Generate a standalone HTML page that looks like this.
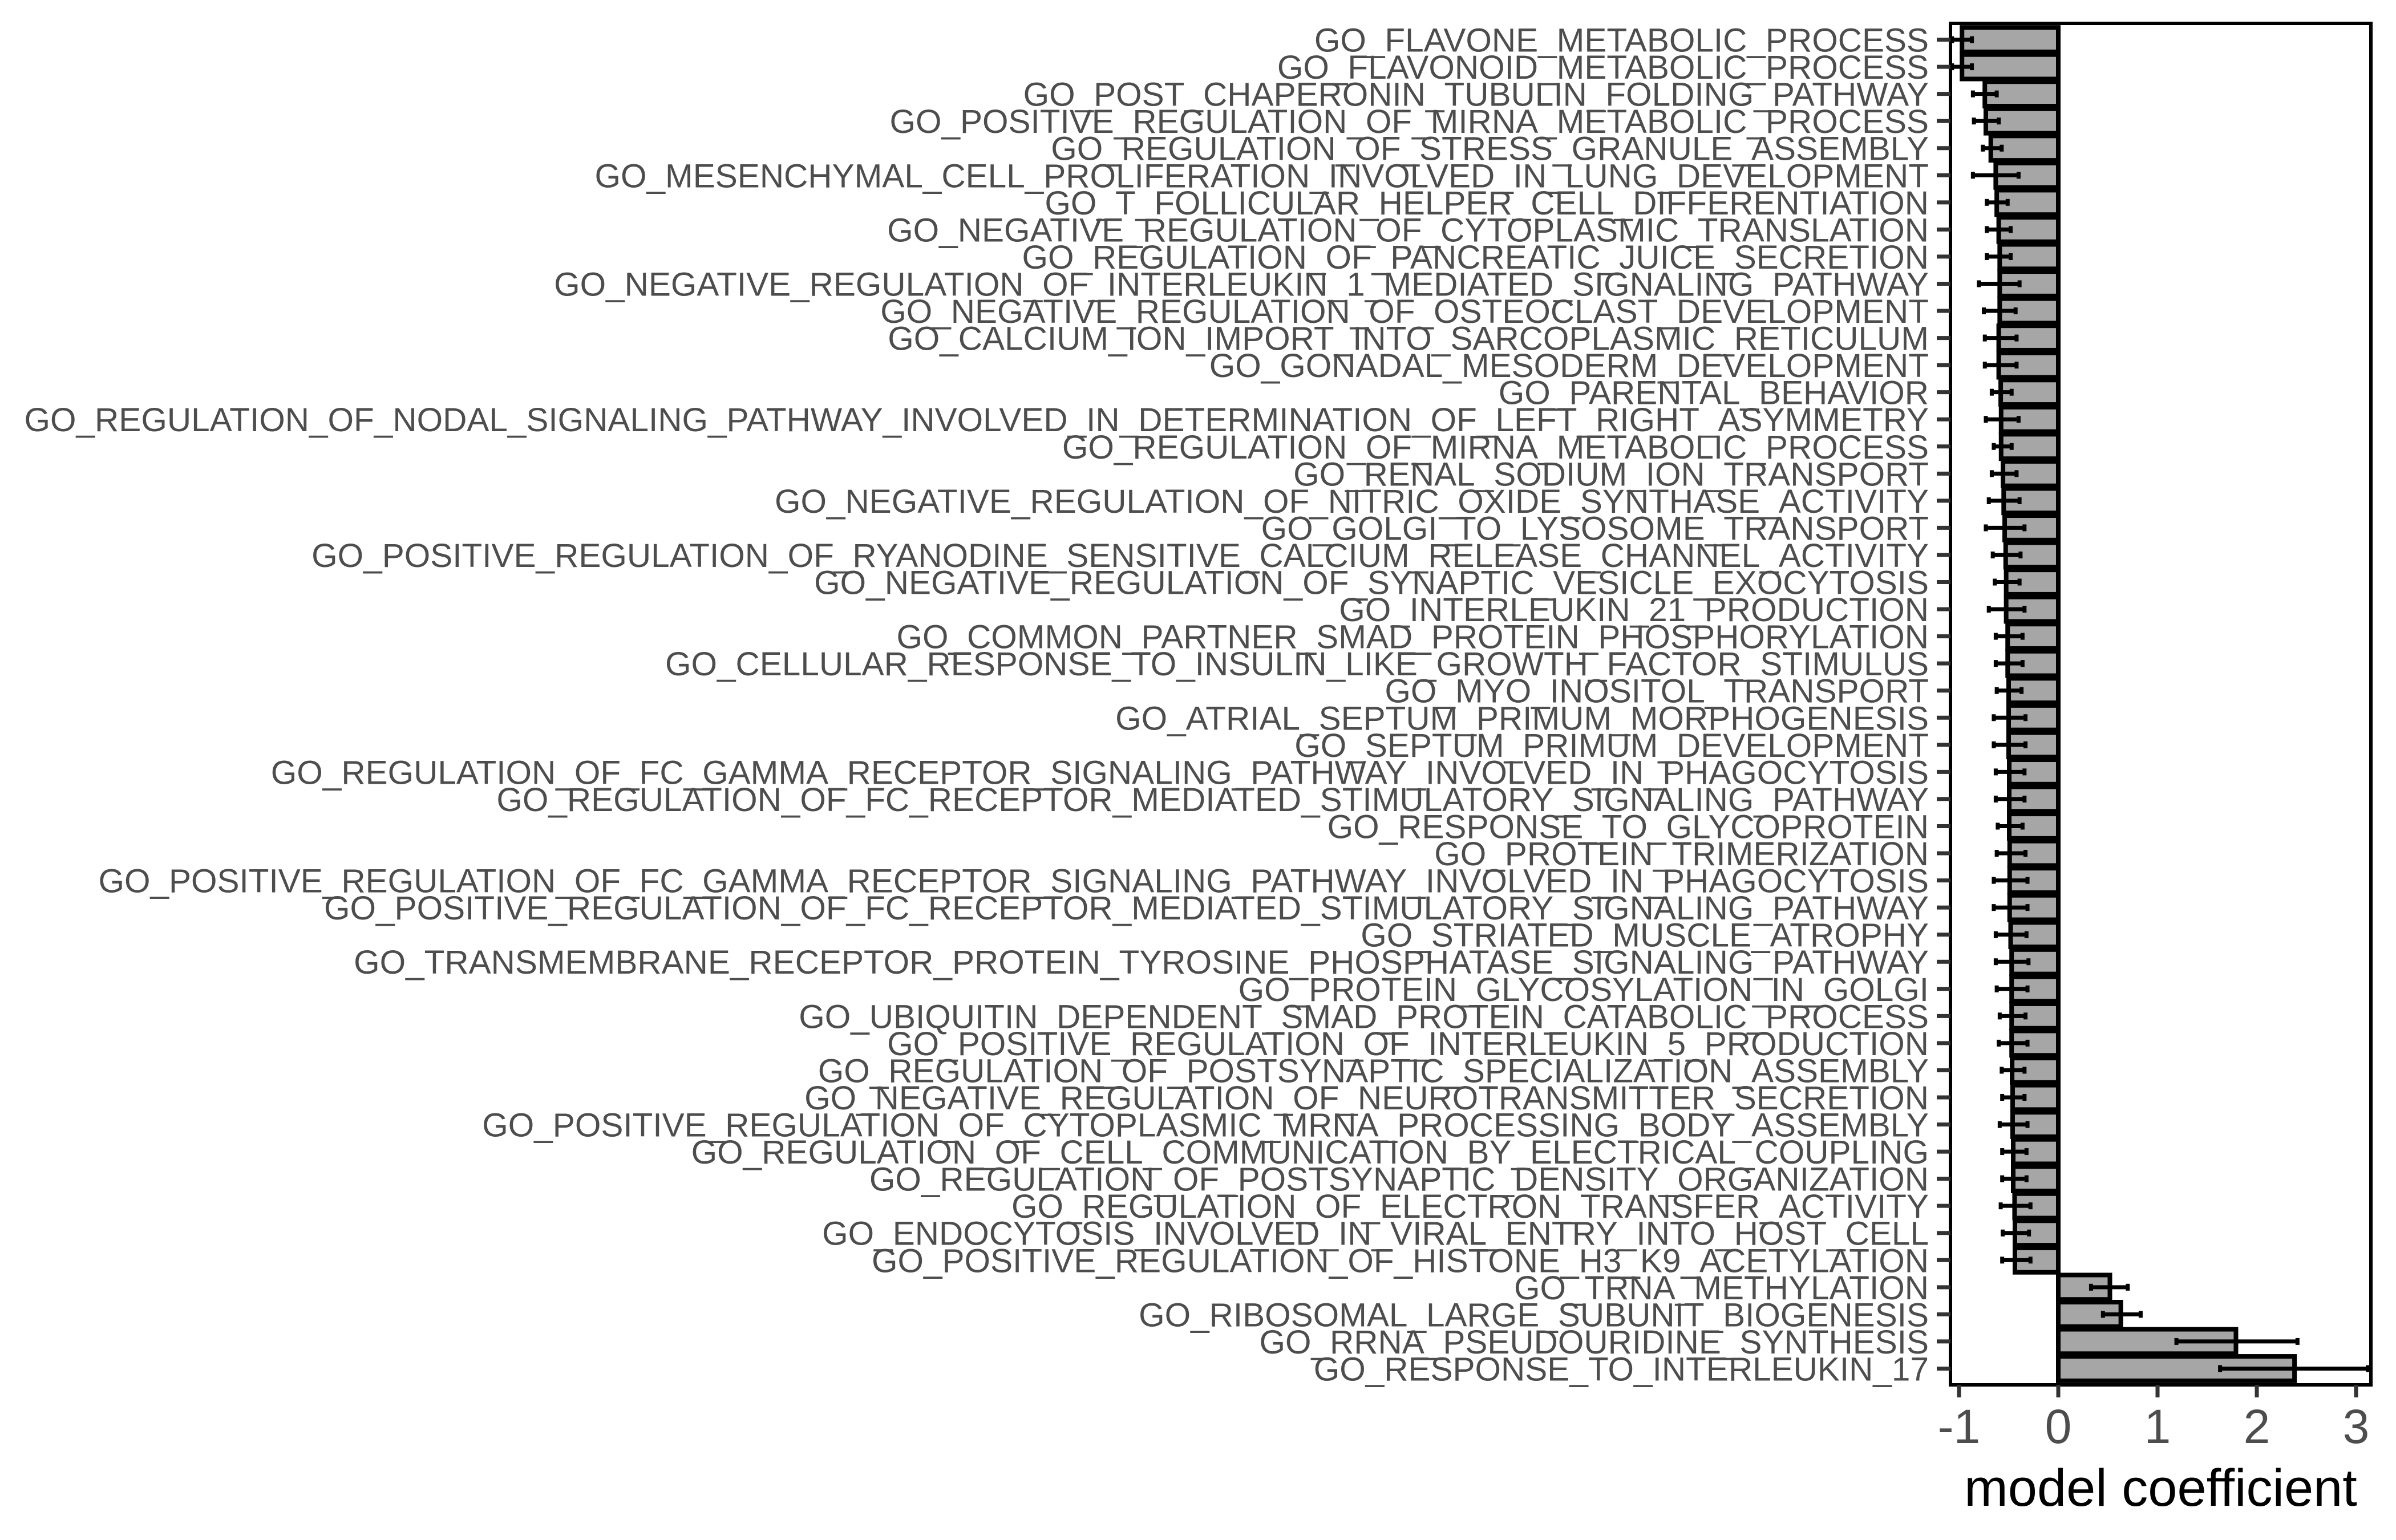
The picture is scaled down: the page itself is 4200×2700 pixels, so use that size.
<!DOCTYPE html>
<html><head><meta charset="utf-8">
<style>
html,body{margin:0;padding:0;background:#fff;}
svg{display:block;}
</style></head>
<body>
<svg id="chart" width="4200" height="2700" xmlns="http://www.w3.org/2000/svg"></svg>
<script>
const categories = [
"GO_FLAVONE_METABOLIC_PROCESS","GO_FLAVONOID_METABOLIC_PROCESS","GO_POST_CHAPERONIN_TUBULIN_FOLDING_PATHWAY",
"GO_POSITIVE_REGULATION_OF_MIRNA_METABOLIC_PROCESS","GO_REGULATION_OF_STRESS_GRANULE_ASSEMBLY",
"GO_MESENCHYMAL_CELL_PROLIFERATION_INVOLVED_IN_LUNG_DEVELOPMENT","GO_T_FOLLICULAR_HELPER_CELL_DIFFERENTIATION",
"GO_NEGATIVE_REGULATION_OF_CYTOPLASMIC_TRANSLATION","GO_REGULATION_OF_PANCREATIC_JUICE_SECRETION",
"GO_NEGATIVE_REGULATION_OF_INTERLEUKIN_1_MEDIATED_SIGNALING_PATHWAY","GO_NEGATIVE_REGULATION_OF_OSTEOCLAST_DEVELOPMENT",
"GO_CALCIUM_ION_IMPORT_INTO_SARCOPLASMIC_RETICULUM","GO_GONADAL_MESODERM_DEVELOPMENT","GO_PARENTAL_BEHAVIOR",
"GO_REGULATION_OF_NODAL_SIGNALING_PATHWAY_INVOLVED_IN_DETERMINATION_OF_LEFT_RIGHT_ASYMMETRY",
"GO_REGULATION_OF_MIRNA_METABOLIC_PROCESS","GO_RENAL_SODIUM_ION_TRANSPORT",
"GO_NEGATIVE_REGULATION_OF_NITRIC_OXIDE_SYNTHASE_ACTIVITY","GO_GOLGI_TO_LYSOSOME_TRANSPORT",
"GO_POSITIVE_REGULATION_OF_RYANODINE_SENSITIVE_CALCIUM_RELEASE_CHANNEL_ACTIVITY",
"GO_NEGATIVE_REGULATION_OF_SYNAPTIC_VESICLE_EXOCYTOSIS","GO_INTERLEUKIN_21_PRODUCTION",
"GO_COMMON_PARTNER_SMAD_PROTEIN_PHOSPHORYLATION","GO_CELLULAR_RESPONSE_TO_INSULIN_LIKE_GROWTH_FACTOR_STIMULUS",
"GO_MYO_INOSITOL_TRANSPORT","GO_ATRIAL_SEPTUM_PRIMUM_MORPHOGENESIS","GO_SEPTUM_PRIMUM_DEVELOPMENT",
"GO_REGULATION_OF_FC_GAMMA_RECEPTOR_SIGNALING_PATHWAY_INVOLVED_IN_PHAGOCYTOSIS",
"GO_REGULATION_OF_FC_RECEPTOR_MEDIATED_STIMULATORY_SIGNALING_PATHWAY","GO_RESPONSE_TO_GLYCOPROTEIN",
"GO_PROTEIN_TRIMERIZATION","GO_POSITIVE_REGULATION_OF_FC_GAMMA_RECEPTOR_SIGNALING_PATHWAY_INVOLVED_IN_PHAGOCYTOSIS",
"GO_POSITIVE_REGULATION_OF_FC_RECEPTOR_MEDIATED_STIMULATORY_SIGNALING_PATHWAY","GO_STRIATED_MUSCLE_ATROPHY",
"GO_TRANSMEMBRANE_RECEPTOR_PROTEIN_TYROSINE_PHOSPHATASE_SIGNALING_PATHWAY","GO_PROTEIN_GLYCOSYLATION_IN_GOLGI",
"GO_UBIQUITIN_DEPENDENT_SMAD_PROTEIN_CATABOLIC_PROCESS","GO_POSITIVE_REGULATION_OF_INTERLEUKIN_5_PRODUCTION",
"GO_REGULATION_OF_POSTSYNAPTIC_SPECIALIZATION_ASSEMBLY","GO_NEGATIVE_REGULATION_OF_NEUROTRANSMITTER_SECRETION",
"GO_POSITIVE_REGULATION_OF_CYTOPLASMIC_MRNA_PROCESSING_BODY_ASSEMBLY",
"GO_REGULATION_OF_CELL_COMMUNICATION_BY_ELECTRICAL_COUPLING","GO_REGULATION_OF_POSTSYNAPTIC_DENSITY_ORGANIZATION",
"GO_REGULATION_OF_ELECTRON_TRANSFER_ACTIVITY","GO_ENDOCYTOSIS_INVOLVED_IN_VIRAL_ENTRY_INTO_HOST_CELL",
"GO_POSITIVE_REGULATION_OF_HISTONE_H3_K9_ACETYLATION","GO_TRNA_METHYLATION",
"GO_RIBOSOMAL_LARGE_SUBUNIT_BIOGENESIS","GO_RRNA_PSEUDOURIDINE_SYNTHESIS","GO_RESPONSE_TO_INTERLEUKIN_17"
];
const coefValues = [-0.97,-0.97,-0.74,-0.73,-0.68,-0.63,-0.62,-0.60,-0.59,-0.59,
-0.59,-0.60,-0.60,-0.58,-0.576,-0.576,-0.557,-0.55,-0.54,-0.53,-0.525,
-0.525,-0.51,-0.51,-0.50,-0.50,-0.50,-0.494,-0.494,-0.494,-0.49,
-0.49,-0.49,-0.48,-0.47,-0.47,-0.47,-0.47,-0.465,-0.46,-0.46,
-0.454,-0.454,-0.44,-0.437,-0.437,0.52,0.63,1.79,2.38];
const errLow = [-1.07,-1.07,-0.86,-0.85,-0.76,-0.86,-0.72,-0.72,-0.72,-0.80,
-0.75,-0.74,-0.74,-0.67,-0.73,-0.65,-0.67,-0.70,-0.73,-0.66,-0.64,
-0.70,-0.63,-0.63,-0.62,-0.65,-0.65,-0.63,-0.63,-0.61,-0.62,
-0.65,-0.65,-0.63,-0.63,-0.62,-0.59,-0.60,-0.57,-0.565,-0.59,
-0.565,-0.565,-0.58,-0.56,-0.565,0.33,0.45,1.19,1.63];
const errHigh = [-0.87,-0.87,-0.62,-0.60,-0.57,-0.40,-0.51,-0.48,-0.48,-0.39,
-0.43,-0.42,-0.42,-0.47,-0.40,-0.47,-0.42,-0.39,-0.34,-0.38,-0.39,
-0.34,-0.36,-0.36,-0.37,-0.33,-0.33,-0.34,-0.34,-0.36,-0.33,
-0.31,-0.31,-0.32,-0.30,-0.31,-0.33,-0.31,-0.34,-0.34,-0.31,
-0.32,-0.32,-0.28,-0.295,-0.28,0.70,0.83,2.41,3.12];
const xTicks = [-1,0,1,2,3];
const xTickLabels = ["-1","0","1","2","3"];

const NS = "http://www.w3.org/2000/svg";
const svg = document.getElementById("chart");
const P = {left:3419, right:4156, top:41, bottom:2428};
const X0 = 3608, UNIT = 174;
const xScale = v => X0 + v*UNIT;
const step = (P.bottom-P.top)/(categories.length-1+1.2);
const yScale = i => P.top + (0.6+i)*step;

function mk(tag, attrs, parent){
  const e = document.createElementNS(NS, tag);
  for (const k in attrs) e.setAttribute(k, attrs[k]);
  (parent||svg).appendChild(e);
  return e;
}
const clip = mk("clipPath",{id:"pclip"});
mk("rect",{x:P.left,y:P.top,width:P.right-P.left,height:P.bottom-P.top},clip);
const plot = mk("g",{"clip-path":"url(#pclip)"});



const bw = step*0.9;
categories.forEach((c,i)=>{
  const y = yScale(i);
  const x1 = Math.min(xScale(0), xScale(coefValues[i]));
  const x2 = Math.max(xScale(0), xScale(coefValues[i]));
  const r = mk("rect",{x:x1,y:y-bw/2,width:x2-x1,height:bw,fill:"#a6a6a6",stroke:"#000","stroke-width":8},plot);
  
  
});
categories.forEach((c,i)=>{
  const y = yScale(i);
  const g = mk("g",{stroke:"#000","stroke-width":7},plot);
  
  
  const a = xScale(errLow[i]), b = xScale(errHigh[i]);
  mk("line",{x1:a,x2:b,y1:y,y2:y},g);
  mk("line",{x1:a,x2:a,y1:y-6,y2:y+6},g);
  mk("line",{x1:b,x2:b,y1:y-6,y2:y+6},g);
});
const border = mk("rect",{x:P.left,y:P.top,width:P.right-P.left,height:P.bottom-P.top,fill:"none",stroke:"#000","stroke-width":6});



categories.forEach((c,i)=>{
  const y = yScale(i);
  const t = mk("line",{x1:P.left-24,x2:P.left,y1:y,y2:y,stroke:"#333","stroke-width":7});
  
  
  const tx = mk("text",{x:P.left-38,y:y+21,"text-anchor":"end","font-family":"Liberation Sans, sans-serif","font-size":58.5,fill:"#4d4d4d"});
  
  
  tx.textContent = c;
});
xTicks.forEach((v,i)=>{
  const x = xScale(v);
  const t = mk("line",{x1:x,x2:x,y1:P.bottom,y2:P.bottom+22,stroke:"#333","stroke-width":7});
  
  
  const tx = mk("text",{x:x,y:2530,"text-anchor":"middle","font-family":"Liberation Sans, sans-serif","font-size":84,fill:"#4d4d4d"});
  
  
  tx.textContent = xTickLabels[i];
});
const title = mk("text",{x:(P.left+P.right)/2,y:2640,"text-anchor":"middle","font-family":"Liberation Sans, sans-serif","font-size":92,fill:"#000"});


title.textContent = "model coefficient";
</script>
</body></html>
